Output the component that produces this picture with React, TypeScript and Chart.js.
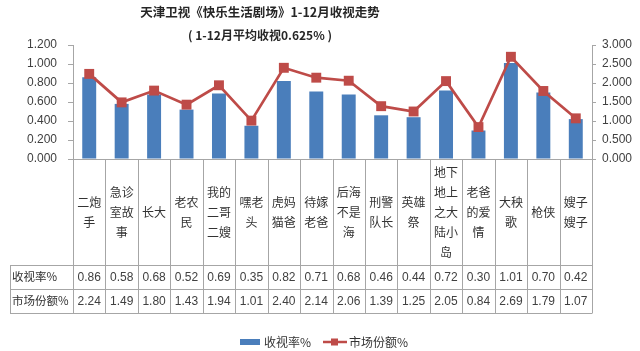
import React, { useEffect, useRef } from "react";
import { Chart, registerables } from "chart.js";

Chart.register(...registerables);

const TITLE = "天津卫视《快乐生活剧场》1-12月收视走势";
const SUBTITLE = "( 1-12月平均收视0.625% )";

const categories = [
  "二炮手", "急诊室故事", "长大", "老农民", "我的二哥二嫂", "嘿老头", "虎妈猫爸", "待嫁老爸",
  "后海不是海", "刑警队长", "英雄祭", "地下地上之大陆小岛", "老爸的爱情", "大秧歌", "枪侠", "嫂子嫂子",
];
const categoryLines = [
  ["二炮", "手"], ["急诊", "室故", "事"], ["长大"], ["老农", "民"], ["我的", "二哥", "二嫂"],
  ["嘿老", "头"], ["虎妈", "猫爸"], ["待嫁", "老爸"], ["后海", "不是", "海"], ["刑警", "队长"],
  ["英雄", "祭"], ["地下", "地上", "之大", "陆小", "岛"], ["老爸", "的爱", "情"], ["大秧", "歌"],
  ["枪侠"], ["嫂子", "嫂子"],
];
const ratingLabel = "收视率%";
const shareLabel = "市场份额%";
const ratings = [0.86, 0.58, 0.68, 0.52, 0.69, 0.35, 0.82, 0.71, 0.68, 0.46, 0.44, 0.72, 0.30, 1.01, 0.70, 0.42];
const shares = [2.24, 1.49, 1.80, 1.43, 1.94, 1.01, 2.40, 2.14, 2.06, 1.39, 1.25, 2.05, 0.84, 2.69, 1.79, 1.07];

const BLUE = "#4A7EBB";
const RED = "#BE4B48";
const GRID = "#A6A6A6";
const TEXT = "#404040";
const CJK = '"Noto Sans CJK SC", "Noto Sans", sans-serif';
const NUM = '"Liberation Sans", Arial, sans-serif';

const tablePlugin = {
  id: "dataTable",
  afterDraw(chart: any) {
    const { ctx, chartArea } = chart;
    const xs = chart.scales.x;
    const n = categories.length;
    const left = chartArea.left;
    const right = chartArea.right;
    const top = chartArea.bottom;
    const labelBottom = 265;
    const row1 = 289;
    const row2 = 313;
    const tableLeft = 10;
    const px = (v: number) => Math.round(v) + 0.5;

    const bounds: number[] = [left];
    for (let i = 1; i < n; i++) {
      bounds.push((xs.getPixelForValue(i - 1) + xs.getPixelForValue(i)) / 2);
    }
    bounds.push(right);

    ctx.save();
    // Titles
    ctx.fillStyle = "#262626";
    ctx.textAlign = "center";
    ctx.textBaseline = "middle";
    ctx.font = `bold 12.5px ${CJK}`;
    ctx.fillText(TITLE, 260, 12);
    ctx.font = `bold 12px ${CJK}`;
    ctx.fillText(SUBTITLE, 260, 35);

    // Table lines
    ctx.strokeStyle = GRID;
    ctx.lineWidth = 1;
    ctx.beginPath();
    ctx.moveTo(left, px(top));
    ctx.lineTo(right, px(top));
    ctx.moveTo(tableLeft, px(labelBottom));
    ctx.lineTo(right, px(labelBottom));
    ctx.moveTo(tableLeft, px(row1));
    ctx.lineTo(right, px(row1));
    ctx.moveTo(tableLeft, px(row2));
    ctx.lineTo(right, px(row2));
    ctx.moveTo(px(tableLeft), px(labelBottom));
    ctx.lineTo(px(tableLeft), px(row2));
    for (const b of bounds) {
      ctx.moveTo(px(b), top);
      ctx.lineTo(px(b), px(row2));
    }
    ctx.stroke();

    // Category labels
    ctx.fillStyle = "#333333";
    ctx.font = `12px ${CJK}`;
    const lh = 20;
    const midY = (top + labelBottom) / 2;
    categoryLines.forEach((lines, i) => {
      const cx = xs.getPixelForValue(i);
      const startY = midY - ((lines.length - 1) * lh) / 2;
      lines.forEach((t, j) => ctx.fillText(t, cx, startY + j * lh));
    });

    // Row headers
    ctx.textAlign = "left";
    ctx.font = `11.5px ${CJK}`;
    ctx.fillText(ratingLabel, 12, (labelBottom + row1) / 2);
    ctx.fillText(shareLabel, 12, (row1 + row2) / 2);

    // Values
    ctx.textAlign = "center";
    ctx.font = `12px ${NUM}`;
    ctx.fillStyle = TEXT;
    ratings.forEach((v, i) => ctx.fillText(v.toFixed(2), xs.getPixelForValue(i), (labelBottom + row1) / 2 + 1));
    shares.forEach((v, i) => ctx.fillText(v.toFixed(2), xs.getPixelForValue(i), (row1 + row2) / 2 + 1));

    // Legend
    const ly = 342;
    ctx.fillStyle = BLUE;
    ctx.fillRect(240, ly - 3, 20, 6);
    ctx.fillStyle = "#333333";
    ctx.textAlign = "left";
    ctx.font = `12px ${CJK}`;
    ctx.fillText(ratingLabel, 264, ly);
    ctx.strokeStyle = RED;
    ctx.lineWidth = 2.5;
    ctx.beginPath();
    ctx.moveTo(323, ly);
    ctx.lineTo(347, ly);
    ctx.stroke();
    ctx.fillStyle = RED;
    ctx.fillRect(331, ly - 3.5, 7, 7);
    ctx.fillStyle = "#333333";
    ctx.fillText(shareLabel, 349, ly);
    ctx.restore();
  },
};

export default function App() {
  const ref = useRef<HTMLCanvasElement | null>(null);
  useEffect(() => {
    document.body.style.margin = "0";
    const canvas = ref.current;
    if (!canvas) return;
    const chart = new Chart(canvas, {
      type: "bar",
      data: {
        labels: categories,
        datasets: [
          {
            type: "line",
            label: shareLabel,
            data: shares,
            yAxisID: "y1",
            borderColor: RED,
            backgroundColor: RED,
            borderWidth: 2.7,
            pointStyle: "rect",
            pointRadius: 7,
            pointBackgroundColor: RED,
            pointBorderColor: RED,
            pointBorderWidth: 0,
            tension: 0,
            order: 0,
          },
          {
            type: "bar",
            label: ratingLabel,
            data: ratings,
            yAxisID: "y",
            backgroundColor: BLUE,
            categoryPercentage: 1,
            barPercentage: 0.43,
            order: 1,
          },
        ],
      },
      options: {
        responsive: false,
        animation: false,
        layout: { padding: { top: 45, bottom: 192, left: 0, right: 0 } },
        plugins: {
          legend: { display: false },
          title: { display: false },
          tooltip: { enabled: false },
        },
        scales: {
          x: { display: false, offset: true },
          y: {
            position: "left",
            min: 0,
            max: 1.2,
            afterFit: (s: any) => { s.width = 73; },
            ticks: {
              stepSize: 0.2,
              padding: 11,
              color: TEXT,
              font: { family: NUM, size: 12 },
              callback: (v: any) => Number(v).toFixed(3),
            },
            grid: { drawOnChartArea: false, drawTicks: true, tickLength: 5, color: GRID },
            border: { display: true, color: GRID },
          },
          y1: {
            position: "right",
            min: 0,
            max: 3,
            afterFit: (s: any) => { s.width = 48; },
            ticks: {
              stepSize: 0.5,
              padding: 6,
              color: TEXT,
              font: { family: NUM, size: 12 },
              callback: (v: any) => Number(v).toFixed(3),
            },
            grid: { drawOnChartArea: false, drawTicks: true, tickLength: 4, color: GRID },
            border: { display: true, color: GRID },
          },
        },
      },
      plugins: [tablePlugin],
    } as any);
    return () => chart.destroy();
  }, []);
  return (
    <div style={{ width: 640, height: 351, background: "#fff" }}>
      <canvas ref={ref} width={640} height={351} />
    </div>
  );
}
